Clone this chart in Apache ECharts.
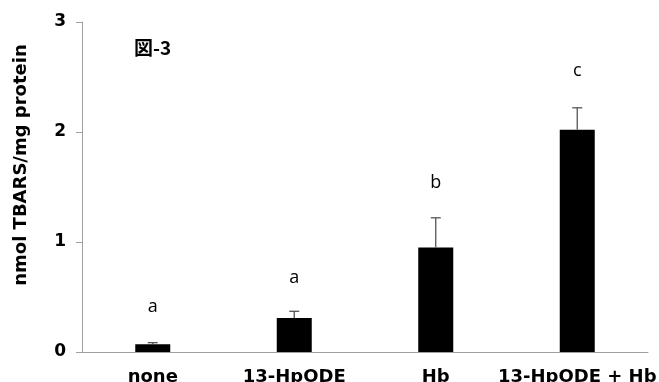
<!DOCTYPE html>
<html><head><meta charset="utf-8">
<script src="https://cdn.jsdelivr.net/npm/echarts@6/dist/echarts.min.js"></script>
<style>html,body{margin:0;padding:0;background:#fff}#c{width:659px;height:382px}</style>
</head><body><div id="c"></div>
<script>
const categories = ['none', '13-HpODE', 'Hb', '13-HpODE + Hb'];
const means = [0.07, 0.31, 0.95, 2.02];
const errors = [0.015, 0.06, 0.27, 0.20];
const letters = ['a', 'a', 'b', 'c'];
const letterY = [0.41, 0.67, 1.54, 2.56];
const yTicks = [0, 1, 2, 3];

const chart = echarts.init(document.getElementById('c'));
const boldFont = 'DejaVu Sans';
chart.setOption({
  animation: false,
  grid: { left: 82, right: 11, top: 22, bottom: 30, containLabel: false, outerBoundsMode: 'none' },
  title: {
    text: '図-3', left: 134, top: 38, padding: 0,
    textStyle: { fontFamily: 'Noto Sans CJK JP', fontSize: 19, fontWeight: 'bold', color: '#000' }
  },
  graphic: [{
    type: 'text', rotation: Math.PI / 2, x: 21, y: 165,
    style: { text: 'nmol TBARS/mg protein', fontFamily: 'DejaVu Sans', fontWeight: 'bold', fontSize: 18, fill: '#000', align: 'center', verticalAlign: 'middle' }
  }],
  xAxis: {
    type: 'category', data: categories,
    axisLine: { lineStyle: { color: '#a0a0a0', width: 1 } },
    axisTick: { show: false },
    axisLabel: { color: '#000', fontFamily: boldFont, fontWeight: 'bold', fontSize: 18, margin: 16, interval: 0 }
  },
  yAxis: {
    type: 'value', min: 0, max: 3, interval: 1,
    splitLine: { show: false },
    axisLine: { show: true, lineStyle: { color: '#a0a0a0', width: 1 } },
    axisTick: { show: true, length: 6, lineStyle: { color: '#a0a0a0' } },
    axisLabel: { color: '#000', fontFamily: boldFont, fontWeight: 'bold', fontSize: 17, margin: 16,
      formatter: v => yTicks.includes(v) ? String(v) : '' }
  },
  series: [
    { type: 'bar', data: means, barWidth: 35, itemStyle: { color: '#000' } },
    {
      type: 'custom',
      data: means.map((m, i) => [i, m, m + errors[i]]),
      renderItem: (params, api) => {
        const x = api.value(0);
        const p0 = api.coord([x, api.value(1)]);
        const p1 = api.coord([x, api.value(2)]);
        const cap = 5;
        return { type: 'group', children: [
          { type: 'line', shape: { x1: p0[0], y1: p0[1], x2: p1[0], y2: p1[1] }, style: { stroke: '#555', lineWidth: 1.3 } },
          { type: 'line', shape: { x1: p1[0] - cap, y1: p1[1], x2: p1[0] + cap, y2: p1[1] }, style: { stroke: '#555', lineWidth: 1.3 } }
        ]};
      },
      z: 3
    },
    {
      type: 'custom',
      data: letterY.map((y, i) => [i, y]),
      renderItem: (params, api) => {
        const p = api.coord([api.value(0), api.value(1)]);
        return { type: 'text', x: p[0], y: p[1], style: {
          text: letters[params.dataIndex], fontFamily: 'Open Sans', fontSize: 18, fill: '#000', align: 'center', verticalAlign: 'middle' } };
      },
      z: 4
    }
  ]
});
</script></body></html>
